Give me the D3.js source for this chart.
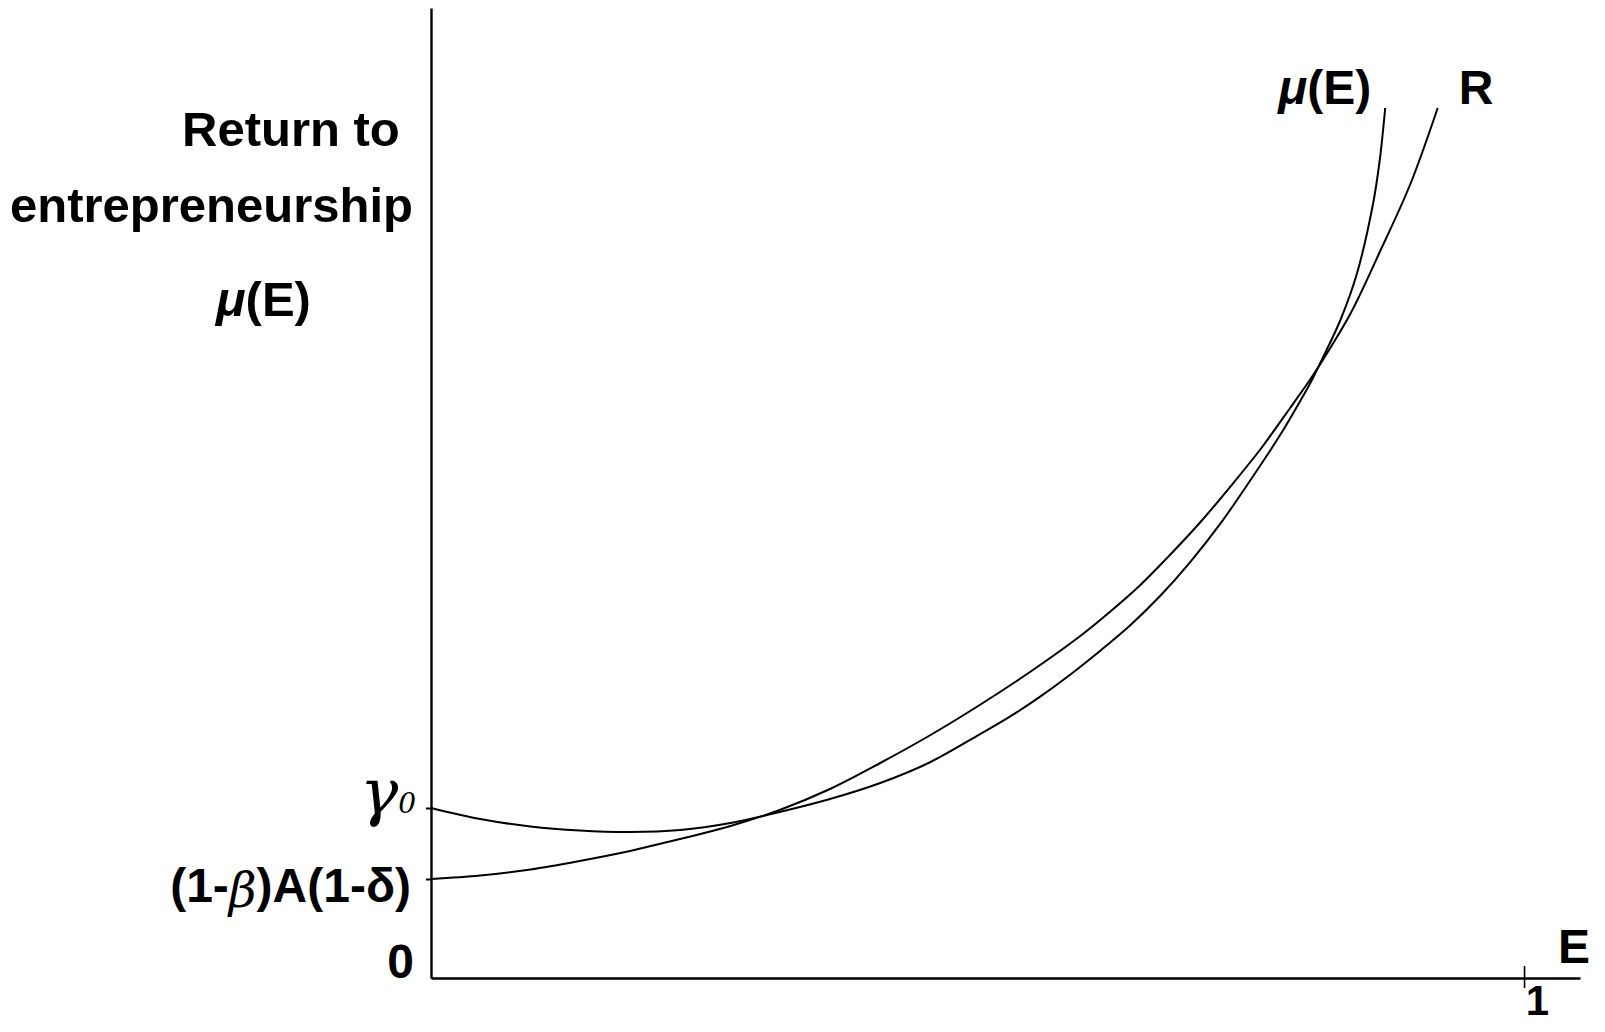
<!DOCTYPE html>
<html>
<head>
<meta charset="utf-8">
<script src="https://cdn.jsdelivr.net/npm/d3@7"></script>
<style>
  html, body { margin: 0; padding: 0; background: #fff; }
  svg { display: block; }
  text { font-family: "Liberation Sans", Arial, Helvetica, sans-serif; font-weight: bold; fill: #000; }
</style>
</head>
<body>
<svg id="chart" width="1605" height="1032"></svg>
<script>
// ---- data (E share of entrepreneurs, return level in arbitrary units) ----
const muE = [0, 0.045, 0.091, 0.136, 0.182, 0.228, 0.274, 0.319, 0.365, 0.411, 0.457, 0.502, 0.530, 0.557, 0.585, 0.612, 0.640, 0.667, 0.694, 0.722, 0.749, 0.777, 0.795, 0.804, 0.818, 0.832, 0.847, 0.862, 0.868, 0.873];
const muY = [1.70, 1.59, 1.515, 1.475, 1.46, 1.48, 1.55, 1.66, 1.79, 1.95, 2.16, 2.437, 2.616, 2.811, 3.035, 3.27, 3.53, 3.82, 4.152, 4.541, 4.967, 5.432, 5.766, 5.94, 6.25, 6.58, 7.04, 7.75, 8.18, 8.70];
const rE  = [0, 0.045, 0.091, 0.136, 0.182, 0.228, 0.274, 0.319, 0.365, 0.411, 0.457, 0.502, 0.548, 0.594, 0.621, 0.649, 0.676, 0.704, 0.731, 0.759, 0.786, 0.804, 0.813, 0.841, 0.868, 0.896, 0.921];
const rY  = [0.99, 1.025, 1.085, 1.17, 1.27, 1.39, 1.52, 1.68, 1.89, 2.15, 2.43, 2.73, 3.06, 3.42, 3.66, 3.93, 4.23, 4.56, 4.91, 5.29, 5.70, 5.98, 6.13, 6.64, 7.26, 7.94, 8.70];
const yTickValues = [0, 0.99, 1.70];
const yTickLabels = ["0", "(1-β)A(1-δ)", "γ0"];
const xTickValues = [1];
const xTickLabels = ["1"];
const curveLabels = ["μ(E)", "R"];
const yTitleLines = ["Return to", "entrepreneurship", "μ(E)"];
const xTitle = "E";

// ---- layout ----
const svg = d3.select("#chart");
const x = d3.scaleLinear().domain([0, 1.0512]).range([431, 1580]);
const y = d3.scaleLinear().domain([0, 9.70]).range([978, 8]);

const line = d3.line().x(d => x(d[0])).y(d => y(d[1])).curve(d3.curveCatmullRom.alpha(0.5));
const muPts = muE.map((e, i) => [e, muY[i]]);
const rPts = rE.map((e, i) => [e, rY[i]]);

svg.append("path").attr("d", line(muPts)).attr("fill", "none").attr("stroke", "#000").attr("stroke-width", 2);
svg.append("path").attr("d", line(rPts)).attr("fill", "none").attr("stroke", "#000").attr("stroke-width", 2);

// ---- axes ----
const yAxis = d3.axisLeft(y).tickValues(yTickValues).tickSizeInner(5).tickSizeOuter(0).tickPadding(13)
  .tickFormat((d, i) => yTickLabels[i]);
const gy = svg.append("g").attr("transform", `translate(${x(0)},0)`).call(yAxis);
gy.select(".domain").attr("stroke", "#000").attr("stroke-width", 2.4);
gy.selectAll(".tick line").attr("stroke", "#000").attr("stroke-width", 2);
gy.selectAll(".tick").filter(d => d === 0).select("line").remove();
gy.selectAll(".tick text").attr("font-size", 48).attr("font-family", null).attr("fill", "#000");

gy.selectAll(".tick text").each(function(d, i) {
  const t = d3.select(this);
  const s = yTickLabels[i];
  t.text(null);
  if (s === "0") {
    t.attr("dy", "-0.02em").attr("x", -17).text(s);
  } else if (s.indexOf("β") >= 0) {
    t.attr("dy", "0.47em").attr("x", -20);
    const parts = s.split("β");
    t.append("tspan").text(parts[0]);
    t.append("tspan").text("β").style("font-family", "'DejaVu Serif', serif").style("font-style", "italic")
      .style("font-weight", "normal").attr("font-size", 48).attr("dy", "0.1em");
    t.append("tspan").text(parts[1]).attr("dy", "-0.1em");
  } else {
    t.attr("dy", "0.12em").attr("x", -15);
    t.append("tspan").text(s[0]).style("font-family", "'DejaVu Serif', serif").style("font-style", "italic")
      .style("font-weight", "normal").attr("font-size", 64);
    t.append("tspan").text(s.slice(1)).style("font-family", "'DejaVu Serif', serif").style("font-style", "italic")
      .style("font-weight", "normal").attr("font-size", 28).attr("dy", "-0.05em");
  }
});

const xAxis = d3.axisBottom(x).tickValues(xTickValues).tickSizeInner(10).tickSizeOuter(0).tickPadding(8)
  .tickFormat((d, i) => xTickLabels[i]);
const gx = svg.append("g").attr("transform", `translate(0,${y(0)})`).call(xAxis);
gx.select(".domain").attr("stroke", "#000").attr("stroke-width", 2.4);
gx.selectAll(".tick line").attr("stroke", "#000").attr("stroke-width", 1.6).attr("y1", -12);
gx.selectAll(".tick text").attr("font-size", 42).attr("font-family", null).attr("fill", "#000")
  .attr("dy", "0.45em").attr("x", 13);

// x title
svg.append("text").attr("x", 1558).attr("y", 963).attr("font-size", 48).text(xTitle);

// y title lines
const titlePos = [[182, 146], [10, 222], [216, 316]];
yTitleLines.forEach((s, i) => {
  const t = svg.append("text").attr("x", titlePos[i][0]).attr("y", titlePos[i][1]).attr("font-size", 49);
  if (s.startsWith("μ")) {
    t.append("tspan").text("μ").style("font-style", "italic");
    t.append("tspan").text(s.slice(1));
  } else t.text(s);
});

// curve end labels
const endMu = muPts[muPts.length - 1], endR = rPts[rPts.length - 1];
const muLab = svg.append("text").attr("x", x(endMu[0]) - 107).attr("y", y(endMu[1]) - 4).attr("font-size", 48);
muLab.append("tspan").text(curveLabels[0][0]).style("font-style", "italic");
muLab.append("tspan").text(curveLabels[0].slice(1));
svg.append("text").attr("x", x(endR[0]) + 21).attr("y", y(endR[1]) - 4).attr("font-size", 48).text(curveLabels[1]);
</script>
</body>
</html>
